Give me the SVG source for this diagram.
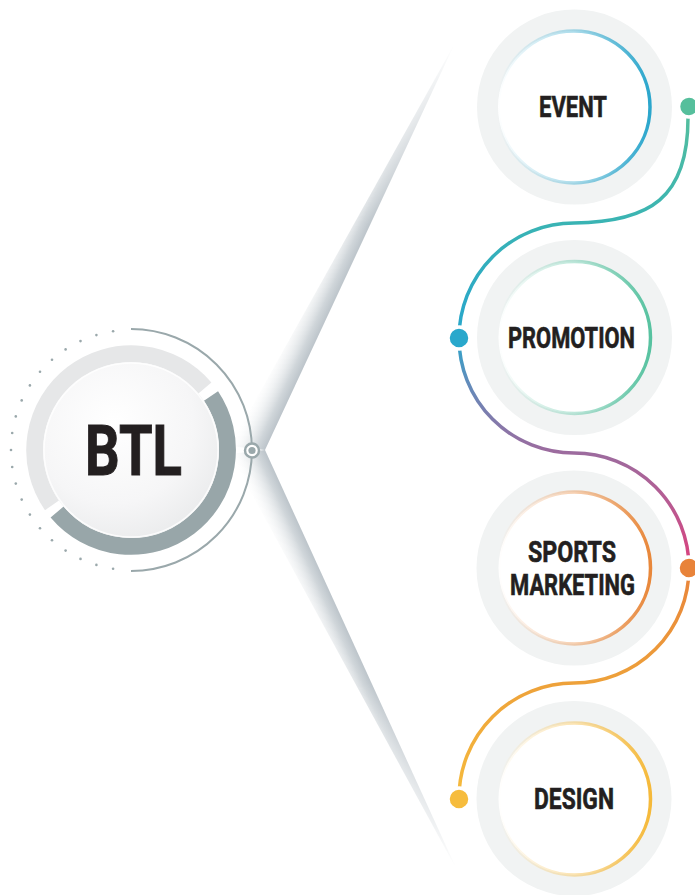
<svg xmlns="http://www.w3.org/2000/svg" width="695" height="895" viewBox="0 0 695 895">
<style>
.lbl{font-family:Roboto,"Liberation Sans",Arial,sans-serif;font-weight:700;fill:#231f20;stroke:#231f20;stroke-width:0.6;font-size:30px}
.outer{fill:#f1f3f3}
.inner{fill:#ffffff}
.ring{fill:none;stroke-width:3.5}
.gdot{fill:#9aa8ab}
.pdot{stroke:#ffffff;stroke-width:3.5}
</style>
<defs>
<linearGradient id="bladeUp" gradientUnits="userSpaceOnUse" x1="265" y1="450" x2="234" y2="435.5">
<stop offset="0" stop-color="#bcc4ca"/>
<stop offset="0.25" stop-color="#d0d6da"/>
<stop offset="1" stop-color="#ffffff" stop-opacity="0"/>
</linearGradient>
<linearGradient id="bladeDn" gradientUnits="userSpaceOnUse" x1="265" y1="450" x2="234" y2="464.2">
<stop offset="0" stop-color="#bcc4ca"/>
<stop offset="0.25" stop-color="#d0d6da"/>
<stop offset="1" stop-color="#ffffff" stop-opacity="0"/>
</linearGradient>
<linearGradient id="fadeUp" gradientUnits="userSpaceOnUse" x1="265" y1="450" x2="455" y2="43">
<stop offset="0" stop-color="#fff"/>
<stop offset="0.55" stop-color="#fff"/>
<stop offset="1" stop-color="#000"/>
</linearGradient>
<linearGradient id="fadeDn" gradientUnits="userSpaceOnUse" x1="265" y1="450" x2="457" y2="870">
<stop offset="0" stop-color="#fff"/>
<stop offset="0.55" stop-color="#fff"/>
<stop offset="1" stop-color="#000"/>
</linearGradient>
<mask id="mUp" maskUnits="userSpaceOnUse" x="0" y="0" width="695" height="895"><rect width="695" height="895" fill="url(#fadeUp)"/></mask>
<mask id="mDn" maskUnits="userSpaceOnUse" x="0" y="0" width="695" height="895"><rect width="695" height="895" fill="url(#fadeDn)"/></mask>
<linearGradient id="flow" gradientUnits="userSpaceOnUse" x1="0" y1="106" x2="0" y2="800">
<stop offset="0" stop-color="#56bf9c"/>
<stop offset="0.164" stop-color="#3ab4b3"/>
<stop offset="0.28" stop-color="#2ca9c6"/>
<stop offset="0.334" stop-color="#29a7cb"/>
<stop offset="0.395" stop-color="#5f8dbc"/>
<stop offset="0.496" stop-color="#9b6c9f"/>
<stop offset="0.568" stop-color="#b65c93"/>
<stop offset="0.664" stop-color="#dc3f7c"/>
<stop offset="0.667" stop-color="#e8833a"/>
<stop offset="0.841" stop-color="#eea33a"/>
<stop offset="1" stop-color="#f6bc3d"/>
</linearGradient>
<linearGradient id="gEvent" gradientUnits="objectBoundingBox" x1="0" y1="0.5" x2="1" y2="0.5">
<stop offset="0" stop-color="#2ba6cc" stop-opacity="0"/>
<stop offset="0.5" stop-color="#2ba6cc" stop-opacity="0.4"/>
<stop offset="1" stop-color="#2ba6cc"/>
</linearGradient>
<linearGradient id="gPromo" gradientUnits="objectBoundingBox" x1="0" y1="0.5" x2="1" y2="0.5">
<stop offset="0" stop-color="#57c2a0" stop-opacity="0"/>
<stop offset="0.5" stop-color="#57c2a0" stop-opacity="0.4"/>
<stop offset="1" stop-color="#57c2a0"/>
</linearGradient>
<linearGradient id="gSports" gradientUnits="objectBoundingBox" x1="0" y1="0.5" x2="1" y2="0.5">
<stop offset="0" stop-color="#e8873a" stop-opacity="0"/>
<stop offset="0.5" stop-color="#e8873a" stop-opacity="0.4"/>
<stop offset="1" stop-color="#e8873a"/>
</linearGradient>
<linearGradient id="gDesign" gradientUnits="objectBoundingBox" x1="0" y1="0.5" x2="1" y2="0.5">
<stop offset="0" stop-color="#f5b93a" stop-opacity="0"/>
<stop offset="0.5" stop-color="#f5b93a" stop-opacity="0.4"/>
<stop offset="1" stop-color="#f5b93a"/>
</linearGradient>
<radialGradient id="btlFace" cx="0.4" cy="0.35" r="0.7">
<stop offset="0" stop-color="#ffffff"/>
<stop offset="0.65" stop-color="#f6f6f7"/>
<stop offset="1" stop-color="#eaebec"/>
</radialGradient>
</defs>

<g id="connectors">
<polygon points="265,450 455,43 230,446" fill="url(#bladeUp)" mask="url(#mUp)"/>
<polygon points="265,450 457,870 230,454" fill="url(#bladeDn)" mask="url(#mDn)"/>
<path d="M688,118 C688,198 650,222 574,223 A115,115 0 0 0 574,453 A115,115 0 0 1 574,683 A115,115 0 0 0 459,798" fill="none" stroke="url(#flow)" stroke-width="3.5" stroke-linecap="round"/>
<circle class="pdot" cx="689" cy="106.5" r="10.5" fill="#56bf9c"/>
<circle class="pdot" cx="459" cy="338" r="11" fill="#29a8cc"/>
<circle class="pdot" cx="689" cy="568" r="11" fill="#e8833a"/>
<circle class="pdot" cx="459" cy="799" r="11" fill="#f6bc3d"/>
</g>

<g id="node-btl">
<g class="gdot">
<circle cx="11" cy="450" r="1.3"/>
<circle cx="12.2" cy="433" r="1.3"/><circle cx="12.2" cy="467" r="1.3"/>
<circle cx="15.8" cy="416.4" r="1.3"/><circle cx="15.8" cy="483.6" r="1.3"/>
<circle cx="21.7" cy="400.4" r="1.3"/><circle cx="21.7" cy="499.6" r="1.3"/>
<circle cx="29.9" cy="385.4" r="1.3"/><circle cx="29.9" cy="514.6" r="1.3"/>
<circle cx="40" cy="371.7" r="1.3"/><circle cx="40" cy="528.3" r="1.3"/>
<circle cx="52" cy="359.7" r="1.3"/><circle cx="52" cy="540.3" r="1.3"/>
<circle cx="65.6" cy="349.4" r="1.3"/><circle cx="65.6" cy="550.6" r="1.3"/>
<circle cx="80.5" cy="341.1" r="1.3"/><circle cx="80.5" cy="558.9" r="1.3"/>
<circle cx="96.4" cy="335.1" r="1.3"/><circle cx="96.4" cy="564.9" r="1.3"/>
<circle cx="113.1" cy="331.3" r="1.3"/><circle cx="113.1" cy="568.7" r="1.3"/>
</g>
<path d="M131,329 A121,121 0 0 1 131,571" fill="none" stroke="#9aa8ab" stroke-width="2"/>
<path d="M51.95,505.35 A96.5,96.5 0 0 1 204.9,388" fill="none" stroke="#e6e7e8" stroke-width="17"/>
<path d="M211,396 A96.5,96.5 0 0 1 57.1,512" fill="none" stroke="#98a6a9" stroke-width="17"/>
<circle cx="131" cy="450" r="88" fill="url(#btlFace)"/>
<circle cx="131" cy="450" r="87" fill="none" stroke="#ffffff" stroke-width="1.5" opacity="0.8"/>
<text class="lbl" x="85" y="475" style="font-size:70px;stroke-width:1" textLength="97" lengthAdjust="spacingAndGlyphs">BTL</text>
<circle cx="252" cy="450.5" r="7" fill="#ffffff" stroke="#9aa8ab" stroke-width="2.5"/>
<circle cx="252" cy="450.5" r="3.6" fill="#9aa8ab"/>
</g>

<g id="node-event">
<circle class="outer" cx="574.5" cy="107" r="97.5"/>
<circle class="inner" cx="574" cy="107" r="76"/>
<circle class="ring" cx="574" cy="107" r="76" stroke="url(#gEvent)"/>
<text class="lbl" x="539" y="117" textLength="68" lengthAdjust="spacingAndGlyphs">EVENT</text>
</g>

<g id="node-promotion">
<circle class="outer" cx="574.5" cy="337.5" r="97.5"/>
<circle class="inner" cx="574.5" cy="337.5" r="76"/>
<circle class="ring" cx="574.5" cy="337.5" r="76" stroke="url(#gPromo)"/>
<text class="lbl" x="508" y="348" textLength="127" lengthAdjust="spacingAndGlyphs">PROMOTION</text>
</g>

<g id="node-sports">
<circle class="outer" cx="574" cy="568" r="97.5"/>
<circle class="inner" cx="574.5" cy="568" r="76"/>
<circle class="ring" cx="574.5" cy="568" r="76" stroke="url(#gSports)"/>
<text class="lbl" x="528" y="562" textLength="88" lengthAdjust="spacingAndGlyphs">SPORTS</text>
<text class="lbl" x="510" y="595" textLength="125" lengthAdjust="spacingAndGlyphs">MARKETING</text>
</g>

<g id="node-design">
<circle class="outer" cx="574" cy="798.5" r="97.5"/>
<circle class="inner" cx="574.5" cy="799" r="76"/>
<circle class="ring" cx="574.5" cy="799" r="76" stroke="url(#gDesign)"/>
<text class="lbl" x="534" y="809" textLength="80" lengthAdjust="spacingAndGlyphs">DESIGN</text>
</g>
</svg>
